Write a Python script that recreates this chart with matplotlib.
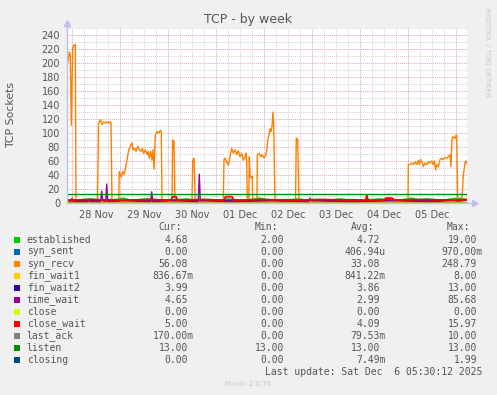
import numpy as np
import matplotlib.pyplot as plt
from matplotlib.patches import Rectangle

# time axis: hours since 2025-11-28 00:00, week view ends Dec 6 05:30
t_start, t_end = -2.5, 197.5
day_labels = ["28 Nov", "29 Nov", "30 Nov", "01 Dec", "02 Dec", "03 Dec", "04 Dec", "05 Dec"]

# syn_recv as (hour, value) points
recv_t = [-2.5, -2, -1.35, -0.85, -0.35, 0.35, 1.0, 1.65, 2.0,
          12.75, 13.25, 14.15, 15, 15.85, 16.65, 17.5, 18.35, 19.15, 19.5, 20,
          23.35, 23.65, 24.15, 24.65, 25.35, 26, 26.65, 27.5, 28.35, 29.15, 30,
          30.5, 31.35, 32, 33, 33.65, 34.5, 35.15, 35.85, 36.65, 37.5, 38, 38.65,
          39.35, 40, 40.5, 41, 41.65, 42.5, 43.35, 44.15, 44.65, 45,
          50, 50.35, 51, 51.5,
          60, 60.35, 61, 61.65,
          75.65, 76, 76.5, 77.35, 78.15, 79, 79.85, 80.65, 81.5, 82.35, 83.15,
          84, 84.85, 85.65, 86.5, 87, 87.35, 87.65, 88.4, 88.65, 89.1, 89.6,
          90.1, 90.4,
          92.5, 92.65, 93.65, 94.35, 95.15, 96, 96.85, 97.35, 97.85, 98.5, 99,
          99.5, 100, 100.5, 100.85, 101.5,
          111.75, 112.15, 112.85, 113.5,
          168, 168.15, 169, 169.85, 170.65, 171.5, 172.35, 173.15, 173.65,
          174.35, 175.15, 175.65, 176.5, 177.35, 178.15, 179, 179.85, 180.65,
          181.15, 181.85, 182.35, 183.15, 184, 184.85, 185.65, 186.5, 187.35,
          188.15, 189, 189.5, 190, 190.65, 191.5, 192, 192.35, 192.85,
          194.85, 195.65, 196.5, 197, 197.5]
recv_v = [214, 202, 216, 212, 111, 221, 226, 226, 0,
          0, 114, 119, 112, 116, 114, 116, 114, 116, 115, 0,
          0, 45, 41, 37, 45, 41, 48, 61, 76, 81, 86,
          76, 78, 74, 81, 76, 74, 78, 71, 76, 69, 74, 64,
          74, 61, 76, 48, 97, 102, 100, 104, 102, 0,
          0, 90, 88, 0,
          0, 61, 64, 0,
          0, 62, 64, 59, 54, 66, 78, 71, 76, 69, 75,
          66, 71, 61, 66, 71, 60, 0, 0, 66, 38, 36,
          38, 0,
          0, 69, 71, 66, 69, 64, 69, 74, 90, 97, 106,
          102, 109, 130, 111, 0,
          0, 93, 90, 0,
          0, 55, 55, 57, 55, 59, 55, 61, 55,
          62, 57, 52, 57, 55, 59, 57, 60, 55,
          60, 47, 55, 52, 62, 64, 62, 65, 64,
          66, 69, 52, 92, 95, 92, 97, 97, 0,
          0, 40, 57, 60, 56]

# 4-hourly readings of the small series near the bottom
base_t = np.arange(t_start, t_end + 0.1, 4.0)
established = [5, 4, 5, 6, 4, 5, 5, 7, 4, 5, 6, 5, 4, 5, 5, 6, 4, 5, 5, 4, 6, 5, 4, 5, 7, 5,
               4, 5, 5, 6, 4, 5, 5, 4, 6, 5, 5, 4, 5, 6, 5, 4, 5, 7, 5, 6, 5, 4, 6, 7, 5]
fin_wait2 = [4, 4, 3, 4, 4, 4, 3, 4, 4, 4, 4, 3, 4, 4, 4, 4, 3, 4, 4, 4, 4, 4, 3, 4, 4, 4,
             4, 3, 4, 4, 4, 4, 4, 3, 4, 4, 4, 4, 3, 4, 4, 4, 4, 4, 3, 4, 4, 4, 4, 3, 4]
fin_wait1 = [1, 1, 1, 0, 1, 1, 1, 1, 0, 1, 1, 1, 1, 1, 0, 1, 1, 1, 1, 1, 1, 0, 1, 1, 1, 1,
             1, 1, 0, 1, 1, 1, 1, 1, 1, 0, 1, 1, 1, 1, 1, 0, 1, 1, 1, 1, 1, 1, 0, 1, 1]

tw_t = [-2.5, -0.5, 0, 0.5, 8, 8.5, 9, 14.35, 14.85, 15.35, 16.85, 17.35, 17.85, 25,
        39.35, 39.85, 40.35, 50, 63.15, 63.65, 64.15, 80, 100, 118.5, 119, 119.5,
        140, 160, 180, 197.5]
tw_v = [3, 2, 7, 2, 2, 5, 2, 2, 17, 3, 2, 27, 2, 3, 2, 16, 2, 3, 2, 41, 3, 2, 3, 2, 7, 3,
        2, 3, 2, 4]

cw_t = [-2.5, 10, 25, 40, 49.5, 50.3, 52, 52.8, 65, 76, 76.8, 80, 80.8, 95, 110, 125,
        140, 146.8, 147.4, 148, 156, 157, 160, 161.5, 175, 190, 197.5]
cw_v = [4, 5, 4, 5, 4, 9, 9, 4, 5, 4, 9, 9, 4, 5, 4, 5, 4, 4, 11, 4, 4, 7, 7, 4, 5, 4, 5]

flat_t = [t_start, t_end]
listen = [13, 13]
zeros = [0, 0]

names = ["established", "syn_sent", "syn_recv", "fin_wait1", "fin_wait2", "time_wait",
         "close", "close_wait", "last_ack", "listen", "closing"]
colors = ["#00CC00", "#0066B3", "#FF8000", "#FFCC00", "#330099", "#990099",
          "#CCFF00", "#FF0000", "#808080", "#008F00", "#00487D"]
cur = ["4.68", "0.00", "56.08", "836.67m", "3.99", "4.65", "0.00", "5.00", "170.00m", "13.00", "0.00"]
mins = ["2.00", "0.00", "0.00", "0.00", "0.00", "0.00", "0.00", "0.00", "0.00", "13.00", "0.00"]
avgs = ["4.72", "406.94u", "33.08", "841.22m", "3.86", "2.99", "0.00", "4.09", "79.53m", "13.00", "7.49m"]
maxs = ["19.00", "970.00m", "248.79", "8.00", "13.00", "85.68", "0.00", "15.97", "10.00", "13.00", "1.99"]

W, H = 497, 395
txt = "#555555"
fig = plt.figure(figsize=(W / 100, H / 100), dpi=100)
fig.patch.set_facecolor("#F0F0F0")
ax = fig.add_axes([67 / W, 1 - 203 / H, 400 / W, 175 / H])
ax.set_facecolor("white")
ax.set_xlim(t_start, t_end)
ax.set_ylim(0, 250)

# grid, rrdtool style
dot = (0, (1, 1))
for y in range(10, 251, 10):
    c = "#E4A4A4" if y % 20 == 0 else "#D4D4D4"
    ax.axhline(y, color=c, lw=0.7, ls=dot, zorder=0)
for h in range(0, 198, 6):
    c = "#E4A4A4" if h % 24 == 0 else "#D4D4D4"
    ax.axvline(h, color=c, lw=0.7, ls=dot, zorder=0)

ax.plot(base_t, established, color=colors[0], lw=1.0)
ax.plot(flat_t, zeros, color=colors[1], lw=1.0)
ax.plot(recv_t, recv_v, color=colors[2], lw=1.0)
ax.plot(base_t, fin_wait1, color=colors[3], lw=1.0)
ax.plot(base_t, fin_wait2, color=colors[4], lw=1.0)
ax.plot(tw_t, tw_v, color=colors[5], lw=1.0)
ax.plot(flat_t, zeros, color=colors[6], lw=1.0)
ax.plot(cw_t, cw_v, color=colors[7], lw=1.3)
ax.plot(flat_t, zeros, color=colors[8], lw=1.0)
ax.plot(flat_t, listen, color=colors[9], lw=1.0)
ax.plot(flat_t, zeros, color=colors[10], lw=1.0)

for s in ax.spines.values():
    s.set_visible(False)
axc = "#C0C0EC"
ax.plot([0, 1.02], [0, 0], transform=ax.transAxes, color=axc, lw=1, clip_on=False)
ax.plot([0, 0], [0, 1.03], transform=ax.transAxes, color=axc, lw=1, clip_on=False)
ax.plot([1.02], [0], transform=ax.transAxes, marker=">", ms=5, color=axc, clip_on=False)
ax.plot([0], [1.03], transform=ax.transAxes, marker="^", ms=5, color=axc, clip_on=False)

ax.set_xticks([12 + 24 * i for i in range(len(day_labels))])
ax.set_xticklabels(day_labels)
ax.set_yticks(range(0, 241, 20))
ax.tick_params(length=0, labelsize=7, colors=txt, pad=5)

fig.text(248 / W, 1 - 19 / H, "TCP - by week", ha="center", va="center", fontsize=9, color=txt)
fig.text(11 / W, 1 - 115 / H, "TCP Sockets", ha="center", va="center", rotation=90,
         fontsize=7.8, color=txt)
fig.text(487 / W, 1 - 8 / H, "RRDTOOL / TOBI OETIKER", ha="center", va="top", rotation=270,
         fontsize=5, color="#C8C8C8")

mono = "DejaVu Sans Mono"
cw = 5.85  # px per monospace char


def put(px, py, s, **kw):
    fig.text(px / W, 1 - py / H, s, family=mono, fontsize=7, color=txt, va="center", **kw)


put(182, 227.5, "Cur:", ha="right")
put(278, 227.5, "Min:", ha="right")
put(374, 227.5, "Avg:", ha="right")
put(470, 227.5, "Max:", ha="right")

edges = [188, 284, 380, 477]
for i, name in enumerate(names):
    y = 240 + 12 * i
    fig.patches.append(Rectangle(((14) / W, 1 - (y + 3) / H), 6 / W, 6 / H,
                                 transform=fig.transFigure, facecolor=colors[i],
                                 edgecolor="none"))
    put(26.7, y, name, ha="left")
    for col, ex in zip([cur, mins, avgs, maxs], edges):
        v = col[i]
        if v[-1].isalpha():
            put(ex + cw, y, v, ha="right")
        else:
            put(ex, y, v, ha="right")

put(482, 372, "Last update: Sat Dec  6 05:30:12 2025", ha="right")
fig.text(248 / W, 1 - 384 / H, "Munin 2.0.76", ha="center", va="center", fontsize=5,
         color="#C8C8C8")

fig.savefig("out.png", dpi=100, facecolor=fig.get_facecolor())
